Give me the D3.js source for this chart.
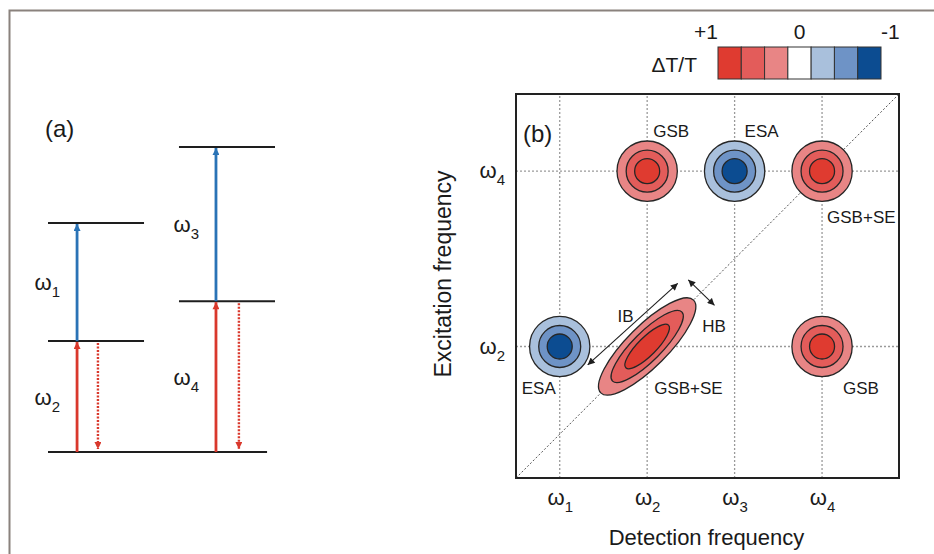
<!DOCTYPE html>
<html>
<head>
<meta charset="utf-8">
<script src="https://cdn.jsdelivr.net/npm/d3@7"></script>
<style>
  body { margin: 0; background: #fff; }
  text { font-family: "Liberation Sans", Arial, sans-serif; fill: #1a1a1a; }
</style>
</head>
<body>
<script>
	// ---- data ----
	// panel (a): energy levels (arbitrary units, ground = 0)
	var levelEnergies = [
		{ side: "both",  E: 0 },
		{ side: "left",  E: 1.0 },
		{ side: "left",  E: 2.065 },
		{ side: "right", E: 1.36 },
		{ side: "right", E: 2.75 },
	];
	var pumpArrows = [
		{ side: "left",  from: 0,    to: 1.0,   color: "red",  sub: "2" },
		{ side: "left",  from: 1.0,  to: 2.065, color: "blue", sub: "1" },
		{ side: "right", from: 0,    to: 1.36,  color: "red",  sub: "4" },
		{ side: "right", from: 1.36, to: 2.75,  color: "blue", sub: "3" },
	];
	var emissionArrows = [
		{ side: "left",  from: 1.0,  to: 0 },
		{ side: "right", from: 1.36, to: 0 },
	];

	// panel (b): 2D map
	var freqTicks = [1, 2, 3, 4];
	var freqTickSubs = ["1", "2", "3", "4"];
	var yTicks = [2, 4];
	var colorbarValues = [1, 0.67, 0.33, 0, -0.33, -0.67, -1];
	var colorbarColors = ["#df3b30", "#e35c5a", "#e88585", "#ffffff", "#a9c0dc", "#6e93c6", "#0c4c91"];
	var peaks = [
		{ det: 2, exc: 4, sign: 1,  label: "GSB" },
		{ det: 3, exc: 4, sign: -1, label: "ESA" },
		{ det: 4, exc: 4, sign: 1,  label: "GSB+SE" },
		{ det: 1, exc: 2, sign: -1, label: "ESA" },
		{ det: 4, exc: 2, sign: 1,  label: "GSB" },
	];
	var circleLevels = [0.33, 0.67, 1];
	var circleRadii = [0.345, 0.24, 0.143];
	var diagPeak = { det: 2, exc: 2, sign: 1, label: "GSB+SE" };
	var diagMajor = [0.75, 0.56, 0.345];
	var diagMinor = [0.235, 0.165, 0.105];
	var annotArrows = [
		{ label: "IB", x1: 1.32, y1: 1.79, x2: 2.35, y2: 2.72, lx: 1.66, ly: 2.28 },
		{ label: "HB", x1: 2.47, y1: 2.76, x2: 2.77, y2: 2.47, lx: 2.63, ly: 2.165 },
	];

	// ---- setup ----
	var W = 934, H = 554;
	var svg = d3.select("body").append("svg").attr("width", W).attr("height", H);

	var RED = "#d9382c", BLUE = "#2a73b6", INK = "#1e1e1e";

	var defs = svg.append("defs");
	function marker(id, color, len, wid){
		defs.append("marker")
			.attr("id", id)
			.attr("viewBox", "0 0 10 10")
			.attr("refX", 10).attr("refY", 5)
			.attr("markerUnits", "userSpaceOnUse")
			.attr("markerWidth", len).attr("markerHeight", wid)
			.attr("orient", "auto-start-reverse")
			.append("path").attr("d", "M0,0 L10,5 L0,10 z").attr("fill", color);
	}
	marker("headRed", RED, 8, 7);
	marker("headBlue", BLUE, 8, 7);
	marker("headInk", INK, 9, 7);

	// frame
	svg.append("path")
		.attr("d", `M9.5,${H} L9.5,10.5 L${W},10.5`)
		.attr("fill", "none").attr("stroke", "#8a827d").attr("stroke-width", 2);

	function omega(sel, sub, fs){
		sel.text(null);
		sel.append("tspan").text("ω");
		sel.append("tspan").attr("dy", fs * 0.32).style("font-size", (fs * 0.68) + "px").text(sub);
	}

	// ---- panel (a) ----
	var ya = d3.scaleLinear().domain([0, 2.75]).range([452, 147]);
	var xa = d3.scaleLinear().domain([0, 1]).range([48, 275]);
	var levelSpan = { both: [0, 0.965], left: [0, 0.423], right: [0.577, 1] };
	var pumpX = { left: 0.128, right: 0.74 };
	var emitX = { left: 0.22, right: 0.841 };

	var ga = svg.append("g");
	ga.append("text").attr("x", 45).attr("y", 137).style("font-size", "24px").text("(a)");

	ga.selectAll("line.level").data(levelEnergies).join("line")
		.attr("class", "level")
		.attr("x1", d => xa(levelSpan[d.side][0]))
		.attr("x2", d => xa(levelSpan[d.side][1]))
		.attr("y1", d => ya(d.E)).attr("y2", d => ya(d.E))
		.attr("stroke", INK).attr("stroke-width", 2);

	ga.selectAll("line.pump").data(pumpArrows).join("line")
		.attr("class", "pump")
		.attr("x1", d => xa(pumpX[d.side])).attr("x2", d => xa(pumpX[d.side]))
		.attr("y1", d => ya(d.from)).attr("y2", d => ya(d.to) + 1)
		.attr("stroke", d => d.color === "red" ? RED : BLUE)
		.attr("stroke-width", 2.8)
		.attr("marker-end", d => d.color === "red" ? "url(#headRed)" : "url(#headBlue)");

	ga.selectAll("line.emit").data(emissionArrows).join("line")
		.attr("class", "emit")
		.attr("x1", d => xa(emitX[d.side])).attr("x2", d => xa(emitX[d.side]))
		.attr("y1", d => ya(d.from) + 2).attr("y2", d => ya(d.to) - 3)
		.attr("stroke", RED).attr("stroke-width", 2.4)
		.attr("stroke-dasharray", "2,1.5")
		.attr("marker-end", "url(#headRed)");

	ga.selectAll("text.wl").data(pumpArrows).join("text")
		.attr("class", "wl")
		.attr("x", d => xa(pumpX[d.side]) - 17)
		.attr("y", d => (ya(d.from) + ya(d.to)) / 2 + 8)
		.attr("text-anchor", "end")
		.style("font-size", "22px")
		.each(function(d){ omega(d3.select(this), d.sub, 22); });

	// ---- panel (b) ----
	var x = d3.scaleLinear().domain([0.5, 4.88]).range([516, 899]);
	var y = d3.scaleLinear().domain([0.5, 4.88]).range([478, 94]);
	var gb = svg.append("g");

	// grid
	gb.selectAll("line.vgrid").data(freqTicks).join("line")
		.attr("class", "vgrid")
		.attr("x1", d => x(d)).attr("x2", d => x(d))
		.attr("y1", y.range()[0]).attr("y2", y.range()[1])
		.attr("stroke", "#9a9a9a").attr("stroke-width", 1.3).attr("stroke-dasharray", "2,2");
	gb.selectAll("line.hgrid").data(yTicks).join("line")
		.attr("class", "hgrid")
		.attr("y1", d => y(d)).attr("y2", d => y(d))
		.attr("x1", x.range()[0]).attr("x2", x.range()[1])
		.attr("stroke", "#9a9a9a").attr("stroke-width", 1.3).attr("stroke-dasharray", "2,2");
	// diagonal
	gb.append("line")
		.attr("x1", x(0.5)).attr("y1", y(0.5)).attr("x2", x(4.88)).attr("y2", y(4.88))
		.attr("stroke", "#555").attr("stroke-width", 1).attr("stroke-dasharray", "2,2");

	var levelColor = d3.scaleOrdinal().domain(colorbarValues).range(colorbarColors);
	var unit = x(1) - x(0);

	// round peaks, outer contour first
	var contours = [];
	peaks.forEach(p => circleLevels.forEach((lv, i) => contours.push({ p, lv: p.sign * lv, r: circleRadii[i] })));
	gb.selectAll("circle.peak").data(contours).join("circle")
		.attr("class", "peak")
		.attr("cx", d => x(d.p.det)).attr("cy", d => y(d.p.exc))
		.attr("r", d => d.r * unit)
		.attr("fill", d => levelColor(d.lv))
		.attr("stroke", "#262626").attr("stroke-width", 1.3);

	// elongated diagonal peak
	gb.selectAll("ellipse.diag").data(circleLevels.map((lv, i) => ({ lv, a: diagMajor[i], b: diagMinor[i] })))
		.join("ellipse")
		.attr("class", "diag")
		.attr("transform", `translate(${x(diagPeak.det)},${y(diagPeak.exc)}) rotate(-45)`)
		.attr("rx", d => d.a * unit).attr("ry", d => d.b * unit)
		.attr("fill", d => levelColor(diagPeak.sign * d.lv))
		.attr("stroke", "#262626").attr("stroke-width", 1.3);

	// peak labels
	var labelOffsets = [[6, -34], [10, -34], [5, 52], [-38, 48], [21, 48], [7, 48]];
	gb.selectAll("text.plabel").data(peaks.concat([diagPeak])).join("text")
		.attr("class", "plabel")
		.attr("x", (d, i) => x(d.det) + labelOffsets[i][0])
		.attr("y", (d, i) => y(d.exc) + labelOffsets[i][1])
		.style("font-size", "17px")
		.text(d => d.label);

	// IB / HB arrows
	gb.selectAll("line.annot").data(annotArrows).join("line")
		.attr("class", "annot")
		.attr("x1", d => x(d.x1)).attr("y1", d => y(d.y1))
		.attr("x2", d => x(d.x2)).attr("y2", d => y(d.y2))
		.attr("stroke", INK).attr("stroke-width", 1.1)
		.attr("marker-start", "url(#headInk)").attr("marker-end", "url(#headInk)");
	gb.selectAll("text.annot").data(annotArrows).join("text")
		.attr("class", "annot")
		.attr("x", d => x(d.lx)).attr("y", d => y(d.ly))
		.style("font-size", "17px")
		.text(d => d.label);

	// box
	gb.append("rect")
		.attr("x", x.range()[0]).attr("y", y.range()[1])
		.attr("width", x.range()[1] - x.range()[0]).attr("height", y.range()[0] - y.range()[1])
		.attr("fill", "none").attr("stroke", "#222").attr("stroke-width", 2);

	gb.append("text").attr("x", 523).attr("y", 142).style("font-size", "24px").text("(b)");

	// axes (labels only)
	var xAxis = gb.append("g").attr("transform", `translate(0,${y.range()[0]})`)
		.call(d3.axisBottom(x).tickValues(freqTicks).tickSize(0).tickPadding(11));
	xAxis.select(".domain").remove();
	xAxis.selectAll("text")
		.each(function(d, i){ d3.select(this).style("font-size", "22px"); omega(d3.select(this), freqTickSubs[i], 22); });

	var yAxis = gb.append("g").attr("transform", `translate(${x.range()[0]},0)`)
		.call(d3.axisLeft(y).tickValues(yTicks).tickSize(0).tickPadding(11));
	yAxis.select(".domain").remove();
	yAxis.selectAll("text")
		.attr("dy", "0.3em")
		.each(function(d){ d3.select(this).style("font-size", "22px"); omega(d3.select(this), String(d), 22); });
	svg.selectAll(".tick text").attr("fill", null).attr("font-family", null);

	gb.append("text")
		.attr("x", (x.range()[0] + x.range()[1]) / 2 - 1).attr("y", 545)
		.attr("text-anchor", "middle").style("font-size", "22px")
		.text("Detection frequency");
	gb.append("text")
		.attr("transform", `translate(451,${(y.range()[0] + y.range()[1]) / 2 - 12}) rotate(-90)`)
		.attr("text-anchor", "middle").style("font-size", "23px")
		.text("Excitation frequency");

	// colorbar
	var cb = svg.append("g");
	var cbx = d3.scaleLinear().domain([1, -1]).range([718, 881]);
	var cbBand = d3.scaleBand().domain(colorbarValues).range(cbx.range());
	cb.selectAll("rect").data(colorbarValues).join("rect")
		.attr("x", d => cbBand(d)).attr("y", 47)
		.attr("width", cbBand.bandwidth()).attr("height", 32)
		.attr("fill", d => levelColor(d))
		.attr("stroke", "#333").attr("stroke-width", 1);
	cb.selectAll("text.tk").data([1, 0, -1]).join("text")
		.attr("class", "tk")
		.attr("x", d => cbx(d))
		.attr("y", 39)
		.attr("text-anchor", d => d > 0 ? "end" : d < 0 ? "start" : "middle")
		.style("font-size", "21px")
		.text(d => d > 0 ? "+1" : d < 0 ? "-1" : "0");
	cb.append("text").attr("x", 697).attr("y", 72).attr("text-anchor", "end")
		.style("font-size", "21px").text("ΔT/T");
</script>
</body>
</html>
